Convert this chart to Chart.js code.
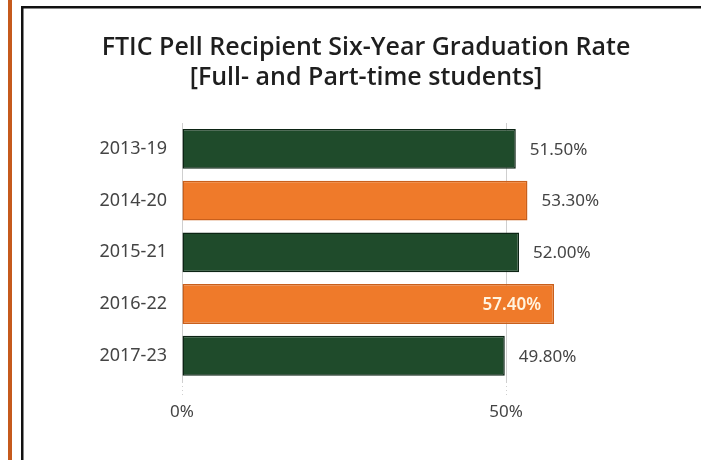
<!DOCTYPE html>
<html>
<head>
<meta charset="utf-8">
<script src="https://cdn.jsdelivr.net/npm/chart.js@4.4.1/dist/chart.umd.min.js"></script>
<style>
  html, body { margin: 0; padding: 0; background: #ffffff; }
  #wrap { position: relative; width: 701px; height: 460px; }
</style>
</head>
<body>
<div id="wrap"><canvas id="c" width="701" height="460"></canvas></div>
<script>
const categories = ['2013-19', '2014-20', '2015-21', '2016-22', '2017-23'];
const rates = [51.5, 53.3, 52.0, 57.4, 49.8];
const rateLabels = ['51.50%', '53.30%', '52.00%', '57.40%', '49.80%'];
const xTickValues = [0, 50];
const titleLines = ['FTIC Pell Recipient Six-Year Graduation Rate', '[Full- and Part-time students]'];

const GREEN = '#1f4b2b', GREEN_BORDER = '#0c2414';
const ORANGE = '#ef7a2a', ORANGE_BORDER = '#c95f1b';
const fillColors = rates.map((v, i) => i % 2 === 0 ? GREEN : ORANGE);
const borderColors = rates.map((v, i) => i % 2 === 0 ? GREEN_BORDER : ORANGE_BORDER);

const frame = {
  id: 'frame',
  beforeDraw(chart) {
    const ctx = chart.ctx;
    ctx.save();
    ctx.fillStyle = '#c65a1c';
    ctx.fillRect(8, 0, 4, 460);
    ctx.fillStyle = '#111111';
    ctx.fillRect(21, 6, 2.5, 454);
    ctx.fillRect(21, 6, 680, 2.5);
    ctx.restore();
  }
};

const valueLabels = {
  id: 'valueLabels',
  afterDatasetsDraw(chart) {
    const ctx = chart.ctx;
    const meta = chart.getDatasetMeta(0);
    const maxVal = Math.max(...rates);
    ctx.save();
    ctx.textBaseline = 'middle';
    meta.data.forEach((bar, i) => {
      const txt = rateLabels[i];
      if (rates[i] === maxVal) {
        ctx.font = '600 17px "Noto Sans", "Open Sans", sans-serif';
        ctx.fillStyle = '#fff4e0';
        ctx.textAlign = 'right';
        ctx.fillText(txt, bar.x - 13, bar.y + 1);
      } else {
        ctx.font = '17px "Noto Sans", "Open Sans", sans-serif';
        ctx.fillStyle = '#444444';
        ctx.textAlign = 'left';
        ctx.fillText(txt, bar.x + 14, bar.y + 1);
      }
    });
    ctx.restore();
  }
};

new Chart(document.getElementById('c'), {
  type: 'bar',
  data: {
    labels: categories,
    datasets: [{
      data: rates,
      backgroundColor: fillColors,
      borderColor: borderColors,
      borderWidth: 1.5,
      borderSkipped: false,
      categoryPercentage: 1.0,
      barPercentage: 0.77
    }]
  },
  options: {
    indexAxis: 'y',
    responsive: false,
    animation: false,
    devicePixelRatio: 1,
    layout: { padding: { top: 33, bottom: 33, left: 60, right: 29 } },
    plugins: {
      legend: { display: false },
      tooltip: { enabled: false },
      title: {
        display: true,
        text: titleLines,
        color: '#1e1e1e',
        font: { family: '"Open Sans", "Noto Sans", sans-serif', size: 25, weight: '600', lineHeight: 1.2 },
        padding: { top: 0, bottom: 30 }
      }
    },
    scales: {
      x: {
        min: 0,
        max: 75.6,
        afterBuildTicks(scale) { scale.ticks = xTickValues.map(v => ({ value: v })); },
        grid: {
          color: '#cfcfcf',
          borderDash: [1, 3],
          tickBorderDash: [1, 3],
          tickColor: '#cfcfcf',
          tickLength: 15,
          drawTicks: true,
          lineWidth: 1
        },
        border: { display: false },
        ticks: {
          padding: 5,
          color: '#444444',
          font: { family: '"Noto Sans", "Open Sans", sans-serif', size: 17 },
          callback: (v) => v + '%'
        }
      },
      y: {
        afterFit(scale) { scale.width = 122; },
        grid: { display: false, drawTicks: false },
        border: { display: false },
        ticks: {
          padding: 15,
          color: '#444444',
          font: { family: '"Noto Sans", "Open Sans", sans-serif', size: 18 }
        }
      }
    }
  },
  plugins: [frame, valueLabels]
});
</script>
</body>
</html>
